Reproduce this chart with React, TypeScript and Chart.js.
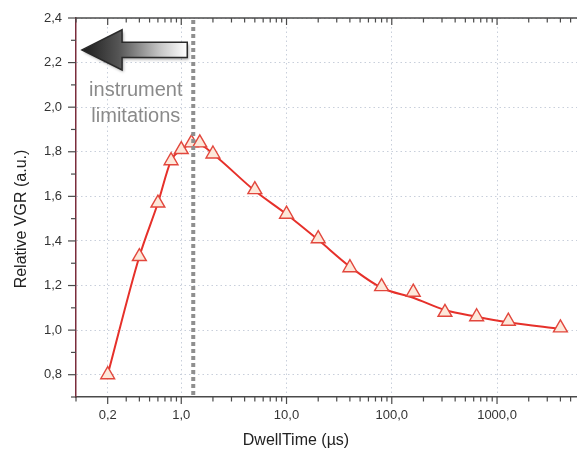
import React, { useEffect, useRef } from 'react';
import { Chart, registerables } from 'chart.js';

Chart.register(...registerables);

// ---- data ----
const dwellTimes = [0.2, 0.4, 0.6, 0.8, 1.0, 1.25, 1.5, 2, 5, 10, 20, 40, 80, 160, 320, 640, 1280, 4000];
const vgrMeasured = [0.8, 1.33, 1.57, 1.76, 1.81, 1.84, 1.84, 1.79, 1.63, 1.52, 1.41, 1.28, 1.195, 1.17, 1.08, 1.06, 1.04, 1.01];
const vgrFit = [0.8, 1.33, 1.57, 1.76, 1.81, 1.83, 1.83, 1.79, 1.625, 1.52, 1.405, 1.285, 1.19, 1.145, 1.09, 1.06, 1.035, 1.005];

const xTickValues = [0.2, 1, 10, 100, 1000];
const xTickLabels = ['0,2', '1,0', '10,0', '100,0', '1000,0'];
const yTickValues = [0.8, 1.0, 1.2, 1.4, 1.6, 1.8, 2.0, 2.2, 2.4];
const yTickLabels = ['0,8', '1,0', '1,2', '1,4', '1,6', '1,8', '2,0', '2,2', '2,4'];
const yMinorTicks = [0.7, 0.9, 1.1, 1.3, 1.5, 1.7, 1.9, 2.1, 2.3];
const xDecades = [0.1, 1, 10, 100, 1000];
const xMultipliers = [1, 2, 3, 4, 5, 6, 7, 8, 9];

const instrumentLimit = 1.3;
const annotationLines = ['instrument', 'limitations'];
const annotationAt = { x: 0.37, y1: 2.077, y2: 1.96 };
const arrowSpec = { tipX: 0.114, headX: 0.274, tailX: 1.14, y: 2.257, headHalf: 0.09, shaftHalf: 0.034 };

const xTitle = 'DwellTime (µs)';
const yTitle = 'Relative VGR (a.u.)';

const FONT = "'Liberation Sans', Arial, sans-serif";
const gridColor = '#c8cfdb';

const decorPlugin = {
  id: 'decor',
  afterDatasetsDraw(chart: any) {
    const { ctx, chartArea: ca, scales } = chart;
    const x = scales.x, y = scales.y;
    ctx.save();
    // instrument limitation dashed line
    const lx = x.getPixelForValue(instrumentLimit);
    ctx.strokeStyle = '#8f8f8f';
    ctx.lineWidth = 4;
    ctx.setLineDash([4, 3]);
    ctx.beginPath();
    ctx.moveTo(lx, ca.top + 2);
    ctx.lineTo(lx, ca.bottom);
    ctx.stroke();
    ctx.setLineDash([]);

    // arrow
    const tip = x.getPixelForValue(arrowSpec.tipX);
    const head = x.getPixelForValue(arrowSpec.headX);
    const tail = x.getPixelForValue(arrowSpec.tailX);
    const cy = y.getPixelForValue(arrowSpec.y);
    const hh = Math.abs(y.getPixelForValue(arrowSpec.y + arrowSpec.headHalf) - cy);
    const sh = Math.abs(y.getPixelForValue(arrowSpec.y + arrowSpec.shaftHalf) - cy);
    const g = ctx.createLinearGradient(tip, 0, tail, 0);
    g.addColorStop(0, '#1c1c1c');
    g.addColorStop(0.35, '#555');
    g.addColorStop(0.75, '#c8c8c8');
    g.addColorStop(1, '#ffffff');
    ctx.beginPath();
    ctx.moveTo(tip, cy);
    ctx.lineTo(head, cy - hh);
    ctx.lineTo(head, cy - sh);
    ctx.lineTo(tail, cy - sh);
    ctx.lineTo(tail, cy + sh);
    ctx.lineTo(head, cy + sh);
    ctx.lineTo(head, cy + hh);
    ctx.closePath();
    ctx.shadowColor = 'rgba(0,0,0,0.35)';
    ctx.shadowBlur = 3;
    ctx.shadowOffsetX = 1.5;
    ctx.shadowOffsetY = 2;
    ctx.fillStyle = g;
    ctx.fill();
    ctx.shadowColor = 'transparent';
    ctx.strokeStyle = '#2a2a2a';
    ctx.lineWidth = 1.5;
    ctx.stroke();

    // annotation text
    ctx.fillStyle = '#8a8a8a';
    ctx.font = `20px ${FONT}`;
    ctx.textAlign = 'center';
    ctx.textBaseline = 'middle';
    const tx = x.getPixelForValue(annotationAt.x);
    ctx.fillText(annotationLines[0], tx, y.getPixelForValue(annotationAt.y1));
    ctx.fillText(annotationLines[1], tx, y.getPixelForValue(annotationAt.y2));
    ctx.restore();
  },
  afterDraw(chart: any) {
    const { ctx, chartArea: ca, scales } = chart;
    const x = scales.x, y = scales.y;
    ctx.save();
    // top axis line
    ctx.strokeStyle = '#4a4a4a';
    ctx.lineWidth = 1.5;
    ctx.beginPath();
    ctx.moveTo(ca.left, ca.top);
    ctx.lineTo(ca.right, ca.top);
    ctx.stroke();

    // x ticks bottom (outward) and top (inward)
    ctx.lineWidth = 1.2;
    for (const d of xDecades) {
      for (const m of xMultipliers) {
        const v = d * m;
        if (v < x.min || v > x.max) continue;
        const px = x.getPixelForValue(v);
        const major = xTickValues.some((t) => Math.abs(t - v) / t < 1e-6);
        const len = major ? 7 : 4.5;
        ctx.strokeStyle = '#4a4a4a';
        ctx.beginPath();
        ctx.moveTo(px, ca.bottom);
        ctx.lineTo(px, ca.bottom + len);
        ctx.moveTo(px, ca.top);
        ctx.lineTo(px, ca.top + len);
        ctx.stroke();
      }
    }
    // y ticks (outward left)
    ctx.strokeStyle = '#4a4a4a';
    for (const v of yTickValues) {
      const py = y.getPixelForValue(v);
      ctx.beginPath();
      ctx.moveTo(ca.left - 8, py);
      ctx.lineTo(ca.left, py);
      ctx.stroke();
    }
    for (const v of yMinorTicks) {
      const py = y.getPixelForValue(v);
      ctx.beginPath();
      ctx.moveTo(ca.left - 5, py);
      ctx.lineTo(ca.left, py);
      ctx.stroke();
    }

    // axis titles
    ctx.fillStyle = '#222';
    ctx.font = `16px ${FONT}`;
    ctx.textAlign = 'center';
    ctx.textBaseline = 'middle';
    ctx.fillText(xTitle, 296, 441);
    ctx.translate(22, 219);
    ctx.rotate(-Math.PI / 2);
    ctx.fillText(yTitle, 0, 0);
    ctx.restore();
  },
};

export default function App() {
  const canvasRef = useRef<HTMLCanvasElement>(null);

  useEffect(() => {
    document.body.style.margin = '0';
    const canvas = canvasRef.current;
    if (!canvas) return;
    const chart = new Chart(canvas, {
      type: 'scatter',
      data: {
        datasets: [
          {
            label: 'measured',
            data: dwellTimes.map((t, i) => ({ x: t, y: vgrMeasured[i] })),
            showLine: false,
            pointStyle: 'triangle',
            pointRadius: 8,
            pointBorderWidth: 1.4,
            borderColor: '#e2473d',
            backgroundColor: '#fde8da',
            order: 0,
          },
          {
            label: 'fit',
            data: dwellTimes.map((t, i) => ({ x: t, y: vgrFit[i] })),
            showLine: true,
            pointRadius: 0,
            borderColor: '#e6302a',
            borderWidth: 2,
            cubicInterpolationMode: 'monotone',
            order: 1,
          },
        ],
      },
      options: {
        animation: false,
        responsive: false,
        layout: { autoPadding: false, padding: { top: 18, right: 0, left: 0, bottom: 0 } },
        plugins: { legend: { display: false }, tooltip: { enabled: false } },
        scales: {
          x: {
            type: 'logarithmic',
            min: 0.1,
            max: 5750,
            afterBuildTicks: (s: any) => {
              s.ticks = xTickValues.map((v) => ({ value: v }));
            },
            afterFit: (s: any) => {
              s.height = 60;
              s.paddingLeft = 0;
              s.paddingRight = 0;
            },
            ticks: {
              autoSkip: false,
              maxRotation: 0,
              padding: 11,
              color: '#333',
              font: { family: FONT, size: 13 },
              callback: (_v: any, i: number) => xTickLabels[i],
            },
            grid: { color: gridColor, lineWidth: 1, drawTicks: false },
            border: { color: '#4a4a4a', width: 1.5, dash: [1.5, 3] },
          },
          y: {
            type: 'linear',
            min: 0.7,
            max: 2.4,
            afterBuildTicks: (s: any) => {
              s.ticks = yTickValues.map((v) => ({ value: v }));
            },
            afterFit: (s: any) => {
              s.width = 76;
              s.paddingTop = 0;
              s.paddingBottom = 0;
            },
            ticks: {
              autoSkip: false,
              padding: 14,
              color: '#333',
              font: { family: FONT, size: 13 },
              callback: (_v: any, i: number) => yTickLabels[i],
            },
            grid: { color: gridColor, lineWidth: 1, drawTicks: false },
            border: { color: '#7a2d3c', width: 1.5, dash: [1.5, 3] },
          },
        },
      },
      plugins: [decorPlugin],
    } as any);
    return () => chart.destroy();
  }, []);

  return (
    <div style={{ position: 'fixed', left: 0, top: 0, width: 577, height: 457, background: '#fff' }}>
      <canvas ref={canvasRef} width={577} height={457} style={{ display: 'block' }} />
    </div>
  );
}
